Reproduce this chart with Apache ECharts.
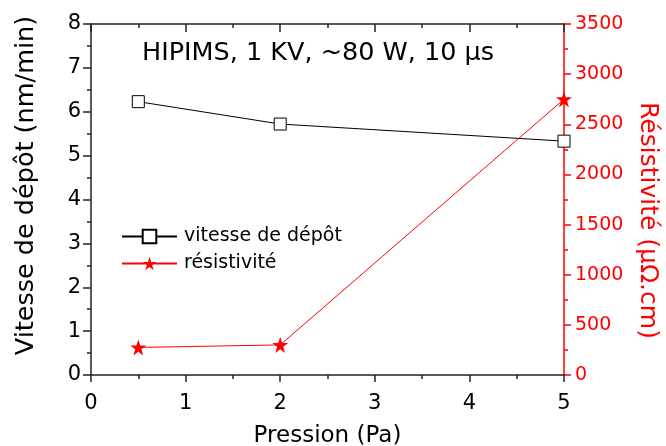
<!DOCTYPE html>
<html><head><meta charset="utf-8">
<script src="https://cdn.jsdelivr.net/npm/echarts@6/dist/echarts.min.js"></script>
<style>html,body{margin:0;padding:0;background:#fff}#c{width:666px;height:446px}</style>
</head><body><div id="c"></div>
<script>
const pressure = [0.5, 2, 5];
const vitesse = [6.23, 5.72, 5.33];
const resistivite = [275, 300, 2750];
const titleText = 'HIPIMS, 1 KV, ~80 W, 10 \u00b5s';
const FONT = '"DejaVu Sans", "Liberation Sans", Arial, sans-serif';
const star = 'path://M50,0 L61.2,34.5 L97.6,34.5 L68.2,55.9 L79.4,90.5 L50,69.1 L20.6,90.5 L31.8,55.9 L2.4,34.5 L38.8,34.5 Z';
const chart = echarts.init(document.getElementById('c'));
const tick = (c) => ({lineStyle: {color: c, width: 1.5}});
chart.setOption({
  animation: false,
  backgroundColor: '#fff',
  textStyle: {fontFamily: FONT},
  grid: {left: 91, right: 102, top: 24, bottom: 71, containLabel: false, outerBoundsMode: 'none'},
  title: {text: titleText, left: 137, top: 35, textStyle: {fontFamily: FONT, fontSize: 25.5, fontWeight: 'normal', color: '#000'}},
  legend: {
    left: 116, top: 222, orient: 'vertical', itemGap: 8, itemWidth: 55, itemHeight: 17,
    textStyle: {fontFamily: FONT, fontSize: 19, color: '#000', padding: [0, 0, 0, 2]},
    data: ['vitesse de dépôt', 'résistivité']
  },
  xAxis: [{
    type: 'value', min: 0, max: 5, interval: 1, position: 'bottom',
    name: 'Pression (Pa)', nameLocation: 'middle', nameGap: 50,
    nameTextStyle: {fontFamily: FONT, fontSize: 23, color: '#000'},
    axisLine: {onZero: false, lineStyle: {color: '#222', width: 1.5}},
    axisTick: Object.assign({inside: false, length: 7}, tick('#222')),
    minorTick: Object.assign({show: true, splitNumber: 2, length: 4}, tick('#222')),
    axisLabel: {fontFamily: FONT, fontSize: 21, color: '#000', margin: 18},
    splitLine: {show: false}
  }, {
    type: 'value', min: 0, max: 5, interval: 1, position: 'top',
    axisLine: {onZero: false, lineStyle: {color: '#222', width: 1.5}},
    axisTick: Object.assign({inside: true, length: 8}, tick('#222')),
    minorTick: Object.assign({show: true, splitNumber: 2, length: 4}, tick('#222')),
    axisLabel: {show: false}, splitLine: {show: false}
  }],
  yAxis: [{
    type: 'value', min: 0, max: 8, interval: 1, position: 'left',
    name: 'Vitesse de dépôt (nm/min)', nameLocation: 'middle', nameGap: 52, nameRotate: 90,
    nameTextStyle: {fontFamily: FONT, fontSize: 25.5, color: '#000', padding: [0, 0, 0, 28]},
    axisLine: {onZero: false, lineStyle: {color: '#222', width: 1.5}},
    axisTick: Object.assign({inside: false, length: 8}, tick('#222')),
    minorTick: Object.assign({show: true, splitNumber: 2, length: 4}, tick('#222')),
    axisLabel: {fontFamily: FONT, fontSize: 21, color: '#000', margin: 10},
    splitLine: {show: false}
  }, {
    type: 'value', min: 0, max: 3500, interval: 500, position: 'right',
    name: 'Résistivité (\u00b5\u03a9.cm)', nameLocation: 'middle', nameGap: 71, nameRotate: -90,
    nameTextStyle: {fontFamily: FONT, fontSize: 25, color: '#ff0000', padding: [0, 0, 0, 42]},
    axisLine: {onZero: false, lineStyle: {color: '#ff0000', width: 1.5}},
    axisTick: Object.assign({inside: false, length: 7}, tick('#ff0000')),
    minorTick: Object.assign({show: true, splitNumber: 2, length: 4}, tick('#ff0000')),
    axisLabel: {fontFamily: FONT, fontSize: 19, color: '#ff0000', margin: 11, formatter: (v) => String(v)},
    splitLine: {show: false}
  }],
  series: [{
    name: 'vitesse de dépôt', type: 'line', xAxisIndex: 0, yAxisIndex: 0,
    data: pressure.map((p, i) => [p, vitesse[i]]),
    symbol: 'rect', symbolSize: 12,
    lineStyle: {color: '#000', width: 1},
    itemStyle: {color: '#fff', borderColor: '#000', borderWidth: 1}
  }, {
    name: 'résistivité', type: 'line', xAxisIndex: 0, yAxisIndex: 1,
    data: pressure.map((p, i) => [p, resistivite[i]]),
    symbol: star, symbolSize: 16,
    lineStyle: {color: '#ff0000', width: 1},
    itemStyle: {color: '#ff0000', borderColor: '#ff0000', borderWidth: 0}
  }]
});
</script></body></html>
